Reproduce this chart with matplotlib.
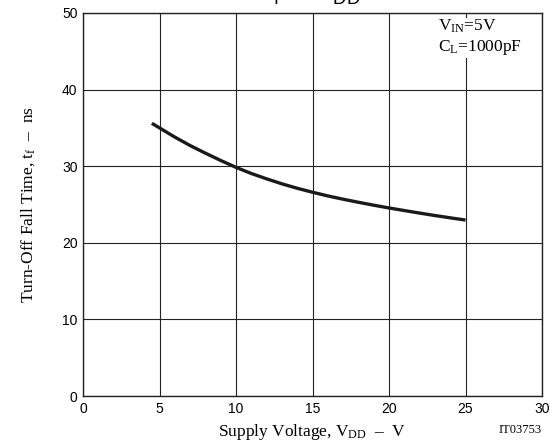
import matplotlib
matplotlib.use("Agg")
import matplotlib.pyplot as plt

# Turn-off fall time vs supply voltage
vdd = [4.5, 5, 6, 7, 8, 9, 10, 11, 12, 13, 14, 15, 16, 17, 18, 19, 20, 21, 22, 23, 24, 25]
tf_ns = [35.6, 35.0, 33.8, 32.7, 31.7, 30.75, 29.85, 29.05, 28.35, 27.7, 27.12, 26.6, 26.12,
         25.69, 25.29, 24.91, 24.55, 24.21, 23.88, 23.56, 23.26, 22.97]

x_ticks = [0, 5, 10, 15, 20, 25, 30]
y_ticks = [0, 10, 20, 30, 40, 50]

plt.rcParams["mathtext.fontset"] = "custom"
plt.rcParams["mathtext.rm"] = "Liberation Serif"
plt.rcParams["mathtext.sf"] = "Liberation Sans"
plt.rcParams["mathtext.it"] = "Liberation Serif:italic"

SERIF = "Liberation Serif"
SANS = "Liberation Sans"

fig = plt.figure(figsize=(5.58, 4.43), dpi=100)
ax = fig.add_axes([83 / 558, 1 - 396 / 443, (542 - 83) / 558, (396 - 13) / 443])

ax.plot(vdd, tf_ns, color="#1a1a1a", linewidth=2.4, solid_capstyle="butt",
        solid_joinstyle="round", zorder=3)

ax.set_xlim(0, 30)
ax.set_ylim(0, 50)
ax.set_xticks(x_ticks)
ax.set_yticks(y_ticks)
ax.tick_params(length=0, pad=4, labelsize=10)
for lab in ax.get_xticklabels() + ax.get_yticklabels():
    lab.set_fontfamily(SANS)
ax.grid(True, color="#222222", linewidth=0.8)
for sp in ax.spines.values():
    sp.set_linewidth(1.0)
    sp.set_color("#222222")

ax.set_xlabel(r"Supply Voltage, $\mathrm{V_{DD}}$  –  V", fontfamily=SERIF, fontsize=12.5, labelpad=5)
ax.set_ylabel(r"Turn-Off Fall Time, $\mathrm{t_f}$  –  ns", fontfamily=SERIF, fontsize=12.5, labelpad=18)

ax.text(23.2, 49.4, r"$\mathrm{V_{IN}}$=5V" + "\n" + r"$\mathrm{C_L}$=1000pF",
        fontfamily=SERIF, fontsize=12.5, ha="left", va="top", linespacing=1.2,
        bbox=dict(facecolor="white", edgecolor="none", pad=1), zorder=4)

fig.text(542 / 558, 1 - 430 / 443, "IT03753", fontfamily=SERIF, fontsize=9, ha="right", va="center")

# title, mostly clipped off the top edge like the source image
fig.text(313 / 558, 1 - 1 / 443, r"$\mathsf{t_f\ -\ V_{DD}}$", fontsize=19, ha="center", va="baseline")

fig.savefig("out.png", dpi=100)
